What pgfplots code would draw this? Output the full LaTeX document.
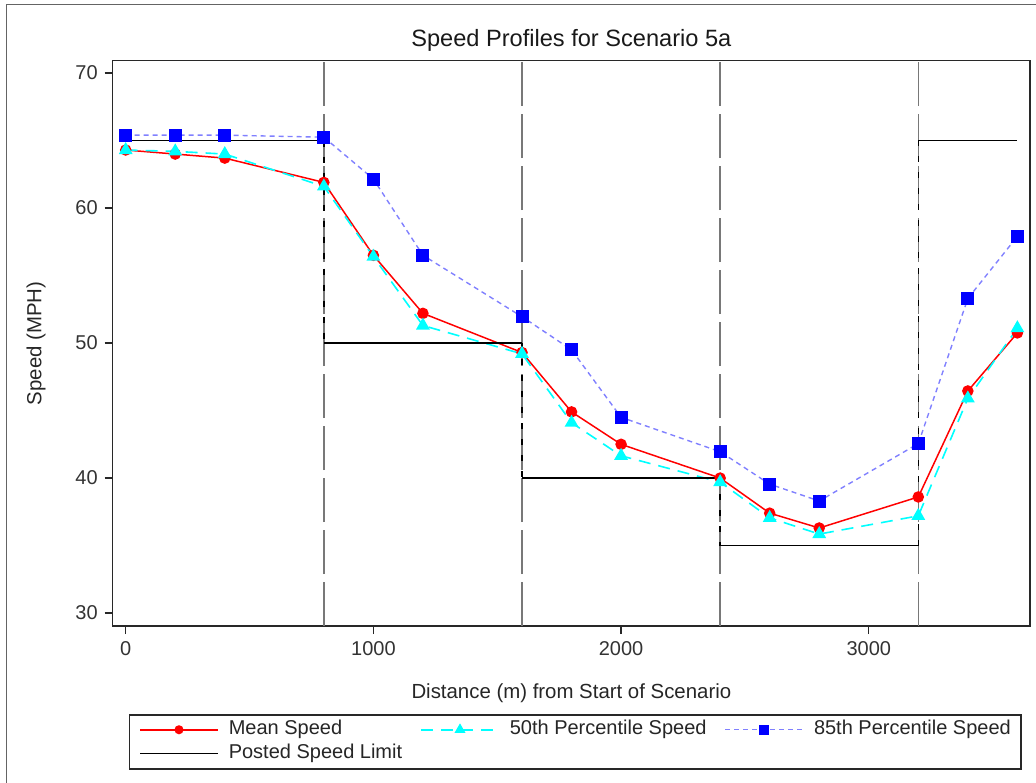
\documentclass[border=0pt]{standalone}
\usepackage{fontspec}
\setmainfont{Liberation Sans}
\usepackage{pgfplots}
\pgfplotsset{compat=1.18}
\definecolor{axgray}{RGB}{40,40,40}
\definecolor{refgray}{RGB}{120,120,120}
\definecolor{framegray}{RGB}{100,100,100}
\definecolor{lblue}{RGB}{128,128,255}
\definecolor{mcyan}{RGB}{0,255,255}
\definecolor{mred}{RGB}{255,0,0}
\definecolor{mblue}{RGB}{0,0,255}
\begin{document}
\begin{tikzpicture}
\begin{axis}[
  scale only axis, width=458.65pt, height=282.75pt,
  xmin=-52.5, xmax=3651, ymin=29.04, ymax=70.93,
  xtick={0,1000,2000,3000}, ytick={30,40,50,60,70},
  tick align=outside, major tick length=4pt, tick pos=left,
  axis line style={axgray, line width=0.75pt},
  tick style={axgray, line width=0.65pt},
  ticklabel style={font=\fontsize{10}{12}\selectfont, text=black!80},
  /pgf/number format/assume math mode=true,
  /pgf/number format/set thousands separator={},
  unbounded coords=jump,
  every axis title/.style={at={(axis description cs:0.5,1)}, anchor=base, yshift=6.9pt, font=\fontsize{11.8}{14}\selectfont, text=black!90},
  title={Speed Profiles for Scenario 5a},
  xlabel={Distance (m) from Start of Scenario},
  ylabel={Speed (MPH)},
  every axis x label/.style={at={(axis description cs:0.5,0)}, anchor=base, yshift=-36pt, font=\fontsize{10.2}{12}\selectfont, text=black!85},
  every axis y label/.style={at={([xshift=-35.6pt]axis description cs:0,0.5)}, rotate=90, anchor=base, font=\fontsize{10.2}{12}\selectfont, text=black!85},
  legend columns=3,
  legend cell align=left,
  legend style={at={(axis description cs:0,0)}, anchor=north west, xshift=7.9pt, yshift=-44pt,
    draw=axgray, line width=0.75pt, inner xsep=5pt, inner ysep=2.5pt,
    font=\fontsize{10}{12}\selectfont, text=black!85,
    nodes={inner sep=0pt, text height=7.5pt, text depth=2.5pt},
    row sep=2pt,
    /tikz/every odd column/.append style={column sep=5pt},
    /tikz/every even column/.append style={column sep=9pt}},
  legend image code/.code={\draw[mark repeat=2, mark phase=2, #1, every mark/.append style={scale=0.75}] plot coordinates {(0pt,0pt) (19.5pt,0pt) (39pt,0pt)};},
]
% reference lines
\addplot[refgray, line width=0.7pt, dash pattern=on 22pt off 4pt, forget plot] coordinates {
  (800,29.04) (800,70.93) (800,nan)
  (1600,29.04) (1600,70.93) (1600,nan)
  (2400,29.04) (2400,70.93) (2400,nan)
  (3200,29.04) (3200,70.93)};
% posted speed limit vertical connectors
\addplot[black, line width=0.7pt, dash pattern=on 3pt off 5pt, forget plot] coordinates {
  (800,65) (800,50) (800,nan)
  (1600,50) (1600,40) (1600,nan)
  (2400,40) (2400,35) (2400,nan)
  (3200,35) (3200,65)};
% Mean speed
\addplot[mred, line width=0.75pt, mark=*, mark size=2.5pt, mark options={solid, fill=mred, draw=mred}] coordinates {
  (0,64.3) (200,64.0) (400,63.7) (800,61.9) (1000,56.5) (1200,52.2) (1600,49.3) (1800,44.9)
  (2000,42.5) (2400,40.0) (2600,37.4) (2800,36.3) (3200,38.6) (3400,46.45) (3600,50.75)};
\addlegendentry{Mean Speed}
% 50th percentile
\addplot[mcyan, line width=0.8pt, dash pattern=on 6pt off 4pt, mark=triangle*, mark size=3.2pt, mark options={solid, fill=mcyan, draw=mcyan}] coordinates {
  (0,64.3) (200,64.2) (400,64.0) (800,61.6) (1000,56.4) (1200,51.3) (1600,49.2) (1800,44.1)
  (2000,41.65) (2400,39.7) (2600,37.05) (2800,35.85) (3200,37.2) (3400,45.9) (3600,51.1)};
\addlegendentry{50th Percentile Speed}
% 85th percentile
\addplot[lblue, line width=0.7pt, dash pattern=on 2.5pt off 2pt, mark=square*, mark size=2.9pt, mark options={solid, fill=mblue, draw=mblue}] coordinates {
  (0,65.4) (200,65.4) (400,65.4) (800,65.25) (1000,62.15) (1200,56.5) (1600,51.95) (1800,49.5)
  (2000,44.5) (2400,41.95) (2600,39.55) (2800,38.3) (3200,42.55) (3400,53.3) (3600,57.9)};
\addlegendentry{85th Percentile Speed}
% posted speed limit
\addplot[black, line width=0.7pt] coordinates {
  (0,65) (800,65) (800,nan)
  (800,50) (1600,50) (1600,nan)
  (1600,40) (2400,40) (2400,nan)
  (2400,35) (3200,35) (3200,nan)
  (3200,65) (3600,65)};
\addlegendentry{Posted Speed Limit}
\end{axis}
\draw[framegray, line width=0.5pt] (-53pt,-90pt) -- (-53pt,310.5pt) -- (470pt,310.5pt);
\pgfresetboundingbox
\path[use as bounding box] (-56.35pt,-78pt) rectangle (461.65pt,313pt);
\end{tikzpicture}
\end{document}
